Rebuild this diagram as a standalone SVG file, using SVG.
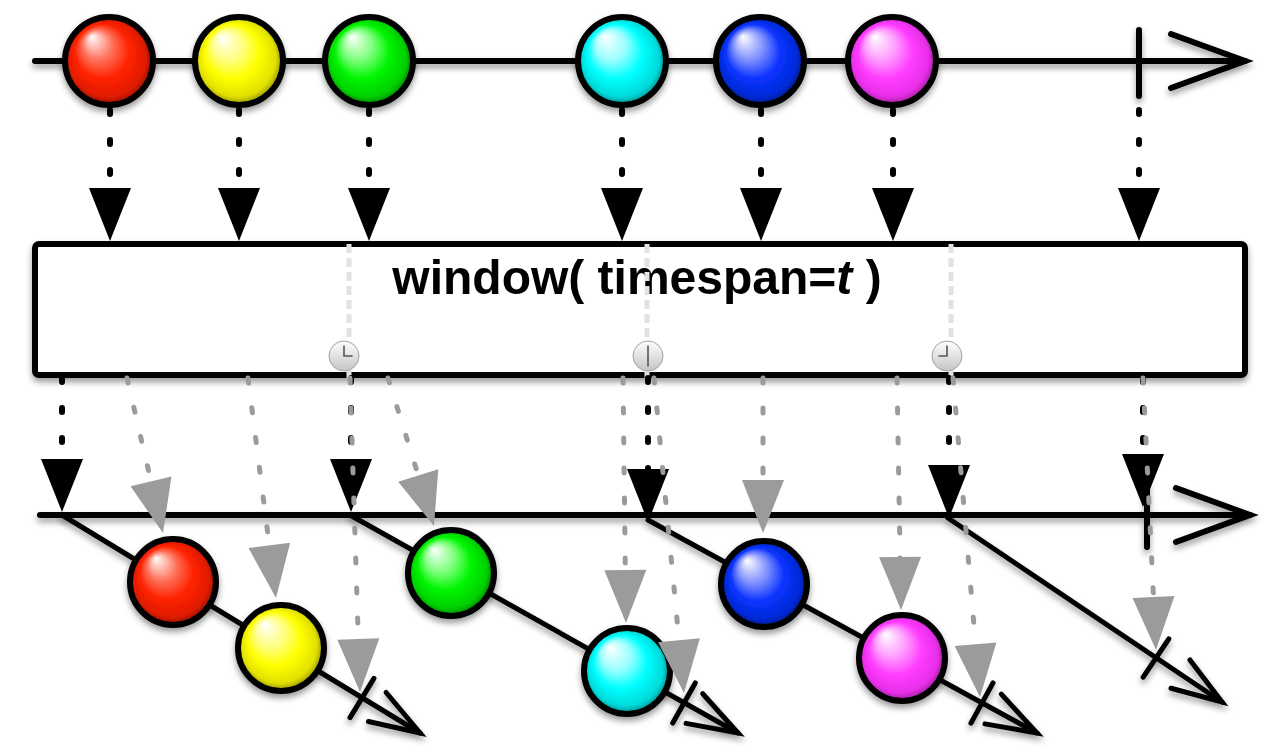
<svg xmlns="http://www.w3.org/2000/svg" width="1280" height="750" viewBox="0 0 1280 750">
<defs>
<filter id="sh" filterUnits="userSpaceOnUse" x="0" y="0" width="1280" height="750">
<feDropShadow dx="0" dy="4" stdDeviation="3" flood-color="#000" flood-opacity="0.4"/>
</filter>
<radialGradient id="gRed" cx="0.5" cy="0.5" r="0.5" fx="0.3" fy="0.22">
<stop offset="0" stop-color="#ffffff"/><stop offset="0.35" stop-color="#ff6f58"/><stop offset="0.62" stop-color="#ff2200"/><stop offset="0.88" stop-color="#e01c00"/><stop offset="1" stop-color="#8f1200"/>
</radialGradient>
<radialGradient id="gYel" cx="0.5" cy="0.5" r="0.5" fx="0.3" fy="0.22">
<stop offset="0" stop-color="#ffffff"/><stop offset="0.35" stop-color="#ffff80"/><stop offset="0.62" stop-color="#ffff00"/><stop offset="0.88" stop-color="#e0e000"/><stop offset="1" stop-color="#8c8c00"/>
</radialGradient>
<radialGradient id="gGrn" cx="0.5" cy="0.5" r="0.5" fx="0.3" fy="0.22">
<stop offset="0" stop-color="#ffffff"/><stop offset="0.35" stop-color="#7dff7d"/><stop offset="0.62" stop-color="#00f500"/><stop offset="0.88" stop-color="#00d000"/><stop offset="1" stop-color="#008000"/>
</radialGradient>
<radialGradient id="gCyn" cx="0.5" cy="0.5" r="0.5" fx="0.3" fy="0.22">
<stop offset="0" stop-color="#ffffff"/><stop offset="0.35" stop-color="#9affff"/><stop offset="0.62" stop-color="#00ffff"/><stop offset="0.88" stop-color="#00dada"/><stop offset="1" stop-color="#008a8a"/>
</radialGradient>
<radialGradient id="gBlu" cx="0.5" cy="0.5" r="0.5" fx="0.3" fy="0.22">
<stop offset="0" stop-color="#ffffff"/><stop offset="0.35" stop-color="#7f8fff"/><stop offset="0.62" stop-color="#0a33ff"/><stop offset="0.88" stop-color="#002ad8"/><stop offset="1" stop-color="#00188a"/>
</radialGradient>
<radialGradient id="gPnk" cx="0.5" cy="0.5" r="0.5" fx="0.3" fy="0.22">
<stop offset="0" stop-color="#ffffff"/><stop offset="0.35" stop-color="#ff9cff"/><stop offset="0.62" stop-color="#ff3dff"/><stop offset="0.88" stop-color="#e82ee8"/><stop offset="1" stop-color="#941e94"/>
</radialGradient>
<linearGradient id="gClk" x1="0" y1="0" x2="0" y2="1">
<stop offset="0" stop-color="#ffffff"/><stop offset="1" stop-color="#c4c4c4"/>
</linearGradient>
<path id="tri" d="M0,0 L-21,-53 L21,-53 Z"/>
<path id="axh" d="M-74,-27 L0,0 L-74,27"/>
<path id="wah" d="M-50,-17 L0,0 L-50,17"/>
<path id="wtk" d="M0,-23 L0,23"/>
<g id="clk">
<circle r="15" fill="url(#gClk)" stroke="#a3a3a3" stroke-width="1"/>
</g>
<style>
.ax{stroke:#000;stroke-width:6;stroke-linecap:round;fill:none;filter:url(#sh)}
.win{stroke:#000;stroke-width:5;stroke-linecap:round;fill:none;filter:url(#sh)}
.mb{stroke:#000;stroke-width:6;filter:url(#sh)}
.bd{stroke:#000;stroke-width:6;stroke-dasharray:4 26;stroke-linecap:round;fill:none}
.gd{stroke:#9b9b9b;stroke-width:5;stroke-dasharray:5 25;stroke-linecap:round;fill:none}
.lg{stroke:#e2e2e2;stroke-width:5;stroke-dasharray:9 5;fill:none}
.bt{fill:#000}
.gt{fill:#9b9b9b}
.hand{stroke:#555;stroke-width:1.6;stroke-linecap:round;fill:none}
.lbl{font-family:"Liberation Sans",Arial,Helvetica,sans-serif;font-weight:bold;font-size:48px;fill:#000}
</style>
</defs>
<rect width="1280" height="750" fill="#fff"/>

<g id="source-axis" class="ax">
<line x1="35" y1="61" x2="1245" y2="61"/>
<use href="#axh" transform="translate(1245,61)"/>
<line x1="1139" y1="30" x2="1139" y2="96"/>
</g>

<g id="src-red"><circle class="mb" cx="109" cy="61" r="44" fill="url(#gRed)"/></g>
<g id="src-yellow"><circle class="mb" cx="239" cy="61" r="44" fill="url(#gYel)"/></g>
<g id="src-green"><circle class="mb" cx="369" cy="61" r="44" fill="url(#gGrn)"/></g>
<g id="src-cyan"><circle class="mb" cx="622" cy="61" r="44" fill="url(#gCyn)"/></g>
<g id="src-blue"><circle class="mb" cx="760" cy="61" r="44" fill="url(#gBlu)"/></g>
<g id="src-pink"><circle class="mb" cx="892" cy="61" r="44" fill="url(#gPnk)"/></g>

<g id="connectors-top">
<line class="bd" x1="110" y1="110" x2="110" y2="205"/><use class="bt" href="#tri" transform="translate(110,241)"/>
<line class="bd" x1="239" y1="110" x2="239" y2="205"/><use class="bt" href="#tri" transform="translate(239,241)"/>
<line class="bd" x1="369" y1="110" x2="369" y2="205"/><use class="bt" href="#tri" transform="translate(369,241)"/>
<line class="bd" x1="622" y1="110" x2="622" y2="205"/><use class="bt" href="#tri" transform="translate(622,241)"/>
<line class="bd" x1="761" y1="110" x2="761" y2="205"/><use class="bt" href="#tri" transform="translate(761,241)"/>
<line class="bd" x1="893" y1="110" x2="893" y2="205"/><use class="bt" href="#tri" transform="translate(893,241)"/>
<line class="bd" x1="1139" y1="110" x2="1139" y2="205"/><use class="bt" href="#tri" transform="translate(1139,241)"/>
</g>

<g id="operator">
<rect x="35" y="244" width="1210" height="131" rx="4" fill="#fff" stroke="#000" stroke-width="6" filter="url(#sh)"/>
<text class="lbl" x="637" y="294" text-anchor="middle">window( timespan=<tspan font-style="italic">t</tspan> )</text>
<line class="lg" x1="349" y1="244" x2="349" y2="378"/>
<line class="lg" x1="647" y1="244" x2="647" y2="378"/>
<line class="lg" x1="951" y1="244" x2="951" y2="378"/>
</g>

<g id="clock-1" transform="translate(344,356)"><use href="#clk"/><path class="hand" d="M0,-10 L0,0 L8,0"/></g>
<g id="clock-2" transform="translate(648,356)"><use href="#clk"/><path class="hand" d="M0,-10 L0,10"/></g>
<g id="clock-3" transform="translate(947,356)"><use href="#clk"/><path class="hand" d="M0,-10 L0,0 L-8,0"/></g>

<g id="result-axis" class="ax">
<line x1="40" y1="515" x2="1250" y2="515"/>
<use href="#axh" transform="translate(1250,515)"/>
<line x1="1147" y1="484" x2="1147" y2="547"/>
</g>

<g id="window-1" class="win">
<line x1="62" y1="515" x2="420" y2="733"/>
<use href="#wah" transform="translate(420,733) rotate(31.3)"/>
<use href="#wtk" transform="translate(362,698) rotate(31.3)"/>
</g>
<g id="window-2" class="win">
<line x1="350" y1="515" x2="738" y2="733"/>
<use href="#wah" transform="translate(738,733) rotate(29.3)"/>
<use href="#wtk" transform="translate(684,703) rotate(29.3)"/>
</g>
<g id="window-3" class="win">
<line x1="648" y1="520" x2="1037" y2="733"/>
<use href="#wah" transform="translate(1037,733) rotate(28.7)"/>
<use href="#wtk" transform="translate(982,703) rotate(28.7)"/>
</g>
<g id="window-4" class="win">
<line x1="948" y1="518" x2="1222" y2="702"/>
<use href="#wah" transform="translate(1222,702) rotate(33.9)"/>
<use href="#wtk" transform="translate(1156,658) rotate(33.9)"/>
</g>

<g id="out-red"><circle class="mb" cx="173" cy="582" r="43" fill="url(#gRed)"/></g>
<g id="out-yellow"><circle class="mb" cx="281" cy="648" r="43" fill="url(#gYel)"/></g>
<g id="out-green"><circle class="mb" cx="451" cy="573" r="43" fill="url(#gGrn)"/></g>
<g id="out-cyan"><circle class="mb" cx="627" cy="671" r="43" fill="url(#gCyn)"/></g>
<g id="out-blue"><circle class="mb" cx="764" cy="584" r="43" fill="url(#gBlu)"/></g>
<g id="out-pink"><circle class="mb" cx="902" cy="658" r="43" fill="url(#gPnk)"/></g>

<g id="connectors-bottom">
<line class="bd" x1="62" y1="378" x2="62" y2="480"/><use class="bt" href="#tri" transform="translate(62,512)"/>
<line class="bd" x1="351" y1="378" x2="351" y2="480"/><use class="bt" href="#tri" transform="translate(351,512)"/>
<line class="bd" x1="648" y1="378" x2="648" y2="490"/><use class="bt" href="#tri" transform="translate(648,522)"/>
<line class="bd" x1="949" y1="378" x2="949" y2="488"/><use class="bt" href="#tri" transform="translate(949,518)"/>
<line class="bd" x1="1143" y1="378" x2="1143" y2="475"/><use class="bt" href="#tri" transform="translate(1143,507)"/>

<line class="gd" x1="127" y1="378" x2="156.2" y2="503.8"/><use class="gt" href="#tri" transform="translate(163,533) rotate(-13.1)"/>
<line class="gd" x1="248" y1="378" x2="272.2" y2="568.2"/><use class="gt" href="#tri" transform="translate(276,598) rotate(-7.25)"/>
<line class="gd" x1="350" y1="378" x2="359" y2="662"/><use class="gt" href="#tri" transform="translate(360,692) rotate(-1.8)"/>
<line class="gd" x1="388" y1="378" x2="425.1" y2="497.4"/><use class="gt" href="#tri" transform="translate(434,526) rotate(-17.3)"/>
<line class="gd" x1="623" y1="378" x2="625.6" y2="593"/><use class="gt" href="#tri" transform="translate(626,623) rotate(-0.7)"/>
<line class="gd" x1="654" y1="378" x2="681.2" y2="663.1"/><use class="gt" href="#tri" transform="translate(684,693) rotate(-5.44)"/>
<line class="gd" x1="763" y1="378" x2="763" y2="503"/><use class="gt" href="#tri" transform="translate(763,533)"/>
<line class="gd" x1="897" y1="378" x2="900.5" y2="580"/><use class="gt" href="#tri" transform="translate(901,610) rotate(-1)"/>
<line class="gd" x1="953" y1="378" x2="977.5" y2="667.1"/><use class="gt" href="#tri" transform="translate(980,697) rotate(-4.84)"/>
<line class="gd" x1="1143" y1="378" x2="1154.6" y2="620"/><use class="gt" href="#tri" transform="translate(1156,650) rotate(-2.74)"/>
</g>
</svg>
